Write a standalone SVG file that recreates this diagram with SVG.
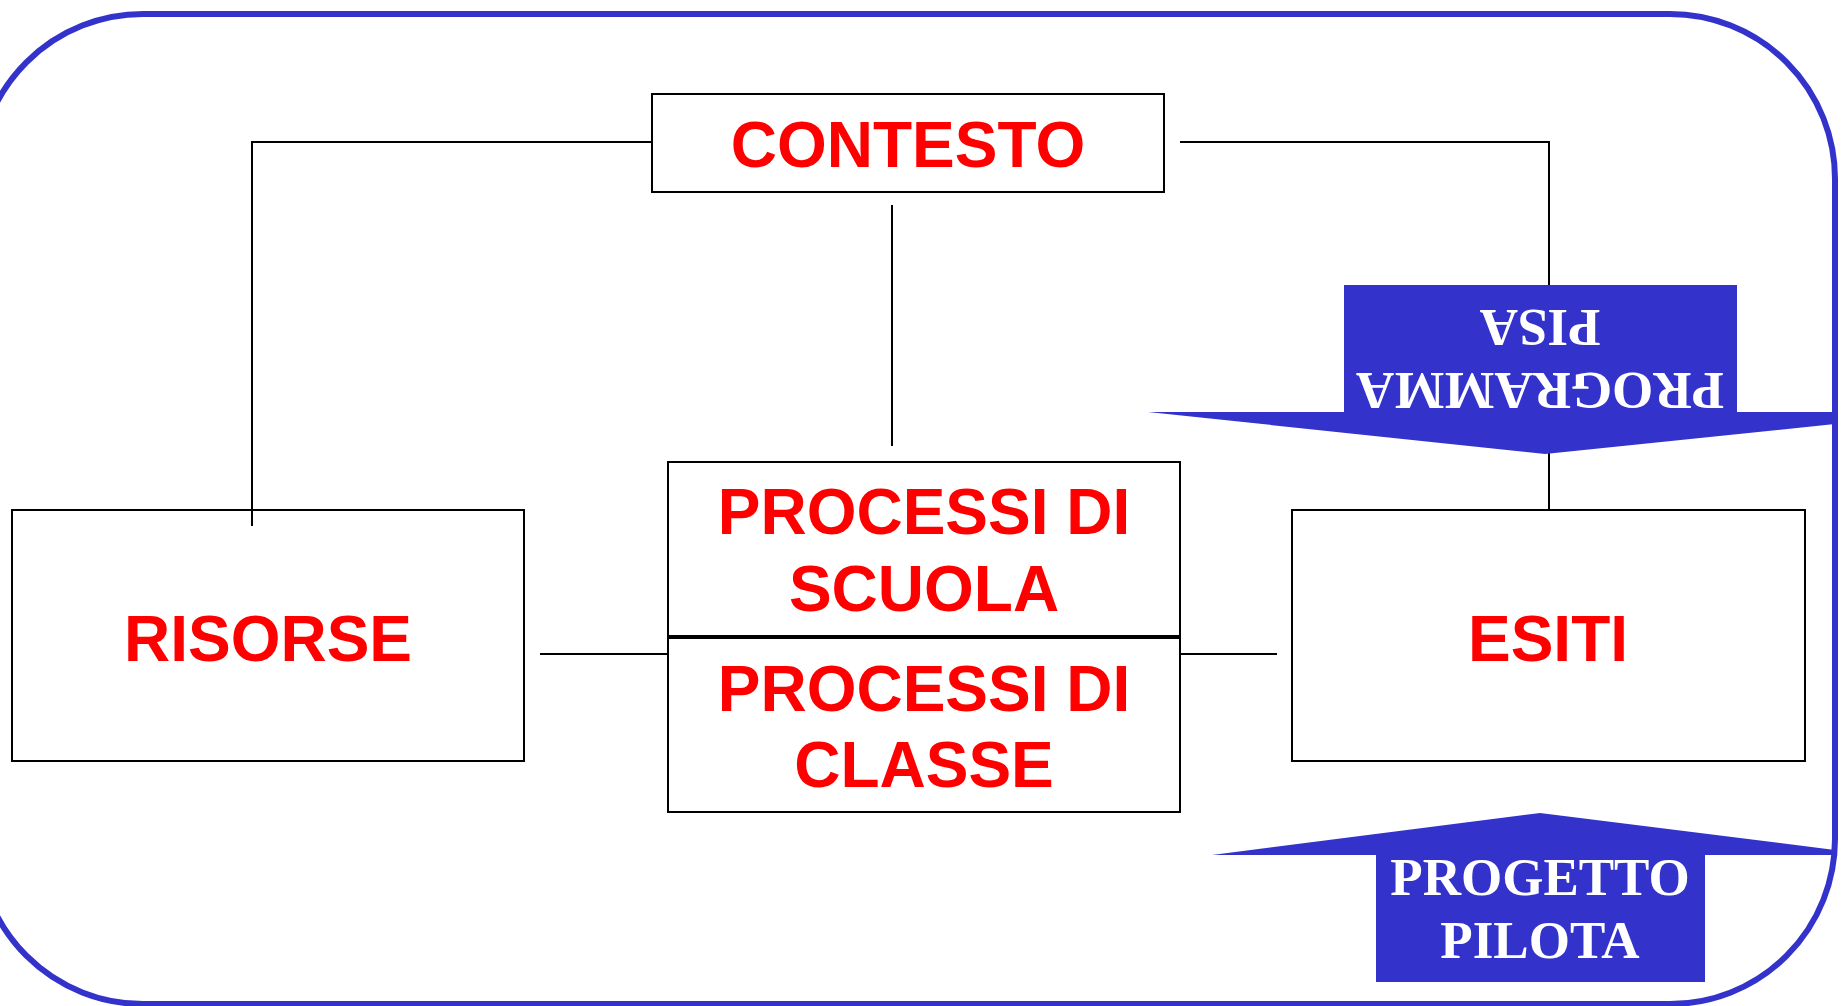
<svg xmlns="http://www.w3.org/2000/svg" width="1841" height="1006" viewBox="0 0 1841 1006">
<style>
.box{fill:#fff;stroke:#000;stroke-width:2}
.lbl{font-family:"Liberation Sans",Arial,sans-serif;font-weight:bold;font-size:64px;fill:#ff0000;text-anchor:middle}
.conn{fill:none;stroke:#000;stroke-width:2}
.arrow{fill:#3333cc}
.alb{font-family:"Liberation Serif","Times New Roman",serif;font-weight:bold;font-size:53px;fill:#fff;text-anchor:middle}
</style>
<rect width="1841" height="1006" fill="#fff"/>
<g id="contesto">
<rect class="box" x="652" y="94" width="512" height="98"/>
<text class="lbl" x="908" y="167">CONTESTO</text>
</g>
<g id="risorse">
<rect class="box" x="12" y="510" width="512" height="251"/>
<text class="lbl" x="268" y="661">RISORSE</text>
</g>
<g id="processi-scuola">
<rect class="box" x="668" y="462" width="512" height="174"/>
<text class="lbl" x="924" y="534">PROCESSI DI</text>
<text class="lbl" x="924" y="611">SCUOLA</text>
</g>
<g id="processi-classe">
<rect class="box" x="668" y="638" width="512" height="174"/>
<text class="lbl" x="924" y="711">PROCESSI DI</text>
<text class="lbl" x="924" y="787">CLASSE</text>
</g>
<g id="esiti">
<rect class="box" x="1292" y="510" width="513" height="251"/>
<text class="lbl" x="1548" y="661">ESITI</text>
</g>
<g id="connectors">
<polyline class="conn" points="652,142 252,142 252,526"/>
<polyline class="conn" points="1180,142 1549,142 1549,510"/>
<line class="conn" x1="892" y1="205" x2="892" y2="446"/>
<line class="conn" x1="540" y1="654" x2="668" y2="654"/>
<line class="conn" x1="1180" y1="654" x2="1277" y2="654"/>
</g>
<g id="programma-pisa">
<polygon class="arrow" points="1148,412 1344,412 1344,285 1737,285 1737,412 1835,412 1835,424 1545,454"/>
<g transform="rotate(180 1540 360)">
<text class="alb" x="1540" y="347">PROGRAMMA</text>
<text class="alb" x="1540" y="410">PISA</text>
</g>
</g>
<g id="progetto-pilota">
<polygon class="arrow" points="1212,855 1376,855 1376,982 1705,982 1705,855 1835,855 1835,850 1540,813"/>
<text class="alb" x="1540" y="895">PROGETTO</text>
<text class="alb" x="1540" y="958">PILOTA</text>
</g>
<g id="border">
<rect x="-22" y="14" width="1857" height="990" rx="165" ry="165" fill="none" stroke="#3333cc" stroke-width="6"/>
</g>
</svg>
